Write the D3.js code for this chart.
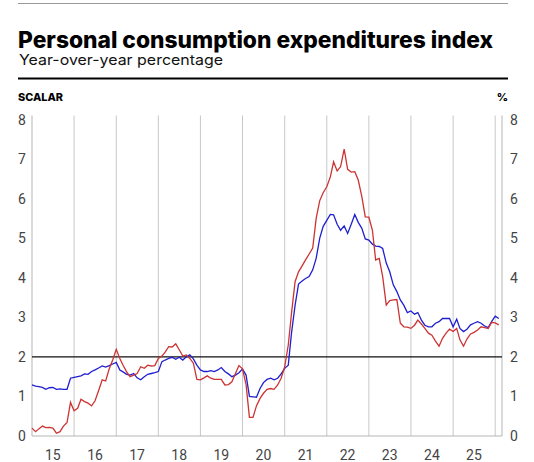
<!DOCTYPE html>
<html>
<head>
<meta charset="utf-8">
<script src="https://cdn.jsdelivr.net/npm/d3@7"></script>
<style>
  html, body { margin: 0; padding: 0; background: #fff; }
  #chart { width: 534px; height: 462px; }
</style>
</head>
<body>
<div id="chart"></div>
<script>
// Monthly year-over-year change, first value is January 2015
const startMonth = new Date(2015, 0, 1);

// Headline PCE (red)
const pceHeadline = [
  0.20, 0.11, 0.18, 0.25, 0.21, 0.22, 0.20, 0.07, 0.11, 0.25, 0.34, 0.85,
  0.64, 0.70, 0.93, 0.87, 0.83, 0.76, 0.89, 1.15, 1.42, 1.39, 1.70, 1.92,
  2.19, 1.96, 1.79, 1.62, 1.50, 1.54, 1.58, 1.75, 1.71, 1.79, 1.77, 1.78,
  1.96, 2.02, 2.12, 2.26, 2.25, 2.33, 2.18, 2.02, 2.05, 1.96, 1.84, 1.43,
  1.42, 1.47, 1.52, 1.46, 1.43, 1.43, 1.43, 1.29, 1.30, 1.37, 1.58, 1.78,
  1.70, 1.30, 0.47, 0.47, 0.76, 0.95, 1.08, 1.18, 1.20, 1.18, 1.29, 1.46,
  1.75, 2.30, 3.10, 3.90, 4.15, 4.30, 4.45, 4.60, 4.75, 5.50, 5.95, 6.15,
  6.30, 6.55, 6.93, 6.70, 6.81, 7.25, 6.74, 6.67, 6.68, 6.47, 6.05, 5.54,
  5.53, 5.20, 4.45, 4.49, 4.03, 3.31, 3.42, 3.44, 3.45, 2.85, 2.76, 2.75,
  2.72, 2.80, 2.93, 2.83, 2.72, 2.60, 2.55, 2.40, 2.27, 2.47, 2.60, 2.70,
  2.64, 2.72, 2.43, 2.27, 2.45, 2.58, 2.62, 2.68, 2.76, 2.74, 2.72, 2.87,
  2.86, 2.81
];

// Core PCE (blue)
const pceCore = [
  1.29, 1.26, 1.25, 1.23, 1.18, 1.22, 1.23, 1.18, 1.19, 1.18, 1.18, 1.46,
  1.48, 1.50, 1.52, 1.57, 1.56, 1.63, 1.67, 1.72, 1.77, 1.74, 1.78, 1.82,
  1.86, 1.67, 1.62, 1.56, 1.54, 1.58, 1.47, 1.42, 1.50, 1.56, 1.58, 1.60,
  1.63, 1.88, 1.92, 1.96, 1.99, 1.94, 1.99, 1.92, 2.00, 2.05, 1.95, 1.79,
  1.67, 1.63, 1.63, 1.65, 1.63, 1.67, 1.73, 1.63, 1.57, 1.50, 1.54, 1.60,
  1.69, 1.54, 1.00, 0.99, 0.98, 1.20, 1.35, 1.43, 1.46, 1.42, 1.46, 1.57,
  1.71, 1.79, 2.60, 3.30, 3.84, 3.92, 3.98, 4.03, 4.20, 4.49, 5.00, 5.30,
  5.45, 5.60, 5.59, 5.35, 5.20, 5.31, 5.12, 5.35, 5.60, 5.40, 5.25, 4.98,
  4.95, 4.85, 4.80, 4.79, 4.74, 4.37, 4.15, 3.82, 3.65, 3.44, 3.30, 3.12,
  3.16, 3.08, 3.12, 2.93, 2.80, 2.76, 2.76, 2.85, 2.89, 2.97, 2.97, 2.97,
  2.76, 2.95, 2.72, 2.64, 2.70, 2.81, 2.85, 2.89, 2.85, 2.78, 2.74, 2.89,
  3.03, 2.97
];

const yTicks = [0, 1, 2, 3, 4, 5, 6, 7, 8];
const yearLabels = ["15", "16", "17", "18", "19", "20", "21", "22", "23", "24", "25"];
const targetRate = 2;

const svg = d3.select("#chart")
  .append("svg")
  .attr("width", 534)
  .attr("height", 462)
  .style("font-family", "Inter, Roboto, 'Liberation Sans', sans-serif");

// Header
svg.append("line")
  .attr("x1", 18).attr("x2", 508)
  .attr("y1", 3.5).attr("y2", 3.5)
  .attr("stroke", "#9a9a9a")
  .attr("stroke-width", 1);

svg.append("text")
  .attr("x", 18)
  .attr("y", 47.5)
  .attr("textLength", 475)
  .attr("lengthAdjust", "spacingAndGlyphs")
  .style("font-size", "22.5px")
  .style("font-weight", "800")
  .style("fill", "#000")
  .text("Personal consumption expenditures index");

svg.append("text")
  .attr("x", 19)
  .attr("y", 64.5)
  .attr("textLength", 204)
  .attr("lengthAdjust", "spacingAndGlyphs")
  .style("font-size", "14.5px")
  .style("fill", "#111")
  .text("Year-over-year percentage");

svg.append("line")
  .attr("x1", 18).attr("x2", 508)
  .attr("y1", 78.5).attr("y2", 78.5)
  .attr("stroke", "#000")
  .attr("stroke-width", 2);

svg.append("text")
  .attr("x", 18)
  .attr("y", 100.5)
  .attr("textLength", 45)
  .attr("lengthAdjust", "spacingAndGlyphs")
  .style("font-size", "10.5px")
  .style("font-weight", "800")
  .style("fill", "#000")
  .text("SCALAR");

svg.append("text")
  .attr("x", 508)
  .attr("y", 100.5)
  .style("font-size", "11px")
  .style("font-weight", "800")
  .style("text-anchor", "end")
  .style("fill", "#000")
  .text("%");

// Scales
const months = pceHeadline.map((d, i) => d3.timeMonth.offset(startMonth, i));

const x = d3.scaleTime()
  .domain([startMonth, new Date(2026, 2, 1)])
  .range([32, 502]);

const y = d3.scaleLinear()
  .domain([0, 8])
  .range([436, 119.5]);

// Vertical year gridlines
const yearStarts = d3.timeYear.range(new Date(2016, 0, 1), new Date(2026, 1, 1));

svg.append("g")
  .selectAll("line")
  .data(yearStarts)
  .enter()
  .append("line")
  .attr("x1", d => x(d)).attr("x2", d => x(d))
  .attr("y1", y(8) - 4).attr("y2", y(0))
  .attr("stroke", "#c8c8c8")
  .attr("stroke-width", 1);

// Frame: left and right edges, baseline
svg.append("line")
  .attr("x1", x.range()[0]).attr("x2", x.range()[0])
  .attr("y1", y(8) - 4).attr("y2", y(0))
  .attr("stroke", "#b5b5b5");

svg.append("line")
  .attr("x1", x.range()[1]).attr("x2", x.range()[1])
  .attr("y1", y(8) - 4).attr("y2", y(0))
  .attr("stroke", "#b5b5b5");

svg.append("line")
  .attr("x1", x.range()[0]).attr("x2", x.range()[1])
  .attr("y1", y(0)).attr("y2", y(0))
  .attr("stroke", "#b5b5b5");

// Left / right value labels
const tickStyle = sel => sel
  .style("font-family", "Roboto, 'Liberation Sans', sans-serif")
  .style("font-size", "14px")
  .style("fill", "#444")
  .attr("dominant-baseline", "central");

svg.append("g")
  .selectAll("text")
  .data(yTicks)
  .enter()
  .append("text")
  .attr("x", 18)
  .attr("y", d => y(d))
  .call(tickStyle)
  .text(d => d);

svg.append("g")
  .selectAll("text")
  .data(yTicks)
  .enter()
  .append("text")
  .attr("x", 510)
  .attr("y", d => y(d))
  .call(tickStyle)
  .text(d => d);

// Year labels at mid-year
svg.append("g")
  .selectAll("text")
  .data(yearLabels)
  .enter()
  .append("text")
  .attr("x", (d, i) => x(new Date(2015 + i, 6, 1)))
  .attr("y", 460)
  .style("text-anchor", "middle")
  .style("font-family", "Roboto, 'Liberation Sans', sans-serif")
  .style("font-size", "14px")
  .style("fill", "#444")
  .text(d => d);

// 2% line
svg.append("line")
  .attr("x1", x.range()[0]).attr("x2", x.range()[1])
  .attr("y1", y(targetRate)).attr("y2", y(targetRate))
  .attr("stroke", "#111")
  .attr("stroke-width", 1.3);

// Series
const line = d3.line()
  .x((d, i) => x(months[i]))
  .y(d => y(d));

svg.append("path")
  .datum(pceCore)
  .attr("fill", "none")
  .attr("stroke", "#1f1fd0")
  .attr("stroke-width", 1.3)
  .attr("d", line);

svg.append("path")
  .datum(pceHeadline)
  .attr("fill", "none")
  .attr("stroke", "#cc3333")
  .attr("stroke-width", 1.3)
  .attr("d", line);
</script>
</body>
</html>
